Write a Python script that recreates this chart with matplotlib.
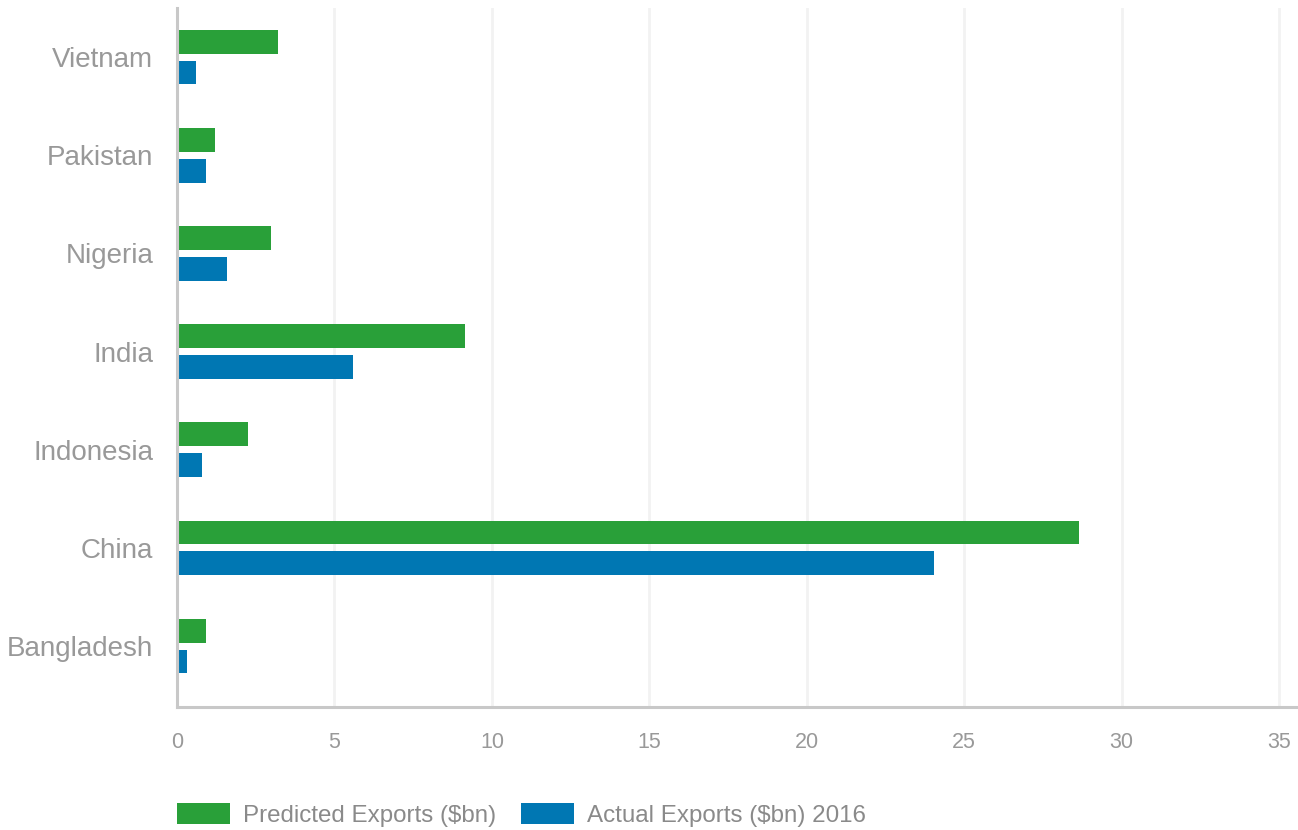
import numpy as np
import matplotlib
matplotlib.use('Agg')
import matplotlib.pyplot as plt

# --- data (top to bottom as shown) ---
countries = ['Vietnam', 'Pakistan', 'Nigeria', 'India', 'Indonesia', 'China', 'Bangladesh']
predicted = [3.2, 1.2, 3.0, 9.15, 2.25, 28.65, 0.93]
actual = [0.6, 0.92, 1.6, 5.6, 0.8, 24.05, 0.33]
series_names = ['Predicted Exports ($bn)', 'Actual Exports ($bn) 2016']
xticks = [0, 5, 10, 15, 20, 25, 30, 35]

GREEN = '#29a039'
BLUE = '#0077b3'
LABEL_GREY = '#999999'
LEGEND_GREY = '#8a8a8a'

plt.rcParams['font.family'] = ['Liberation Sans', 'DejaVu Sans']

W, H = 1298, 830
fig = plt.figure(figsize=(W / 100, H / 100), dpi=100)
ax = fig.add_axes([177 / W, 1 - 707 / H, (W - 177) / W, (707 - 8) / H])

y = np.arange(len(countries))
bar_h = 0.243
off = 0.157
ax.barh(y - off, predicted, height=bar_h, color=GREEN, label=series_names[0], zorder=3)
ax.barh(y + off, actual, height=bar_h, color=BLUE, label=series_names[1], zorder=3)

# top row sits a little lower, as in the original
ax.set_ylim(6.62, -0.5)
ax.set_xlim(0, 35.6)

ax.set_yticks(y)
ax.set_yticklabels(countries, fontsize=20, color=LABEL_GREY)
ax.set_xticks(xticks)
ax.set_xticklabels([str(t) for t in xticks], fontsize=15.5, color=LABEL_GREY)
ax.tick_params(axis='both', length=0)
ax.tick_params(axis='y', pad=17)
ax.tick_params(axis='x', pad=18)

ax.grid(axis='x', color='#f2f2f2', linewidth=2, zorder=0)
ax.grid(axis='y', visible=False)
for side in ['top', 'right']:
    ax.spines[side].set_visible(False)
for side in ['left', 'bottom']:
    ax.spines[side].set_color('#c8c8c8')
    ax.spines[side].set_linewidth(2.2)
    ax.spines[side].set_zorder(4)

fig.legend(loc='center left', bbox_to_anchor=(177 / W, 15 / H), ncol=2,
           frameon=False, borderpad=0, borderaxespad=0,
           handlelength=2.19, handleheight=0.95, handletextpad=0.54,
           columnspacing=1.03,
           prop={'size': 17.4}, labelcolor=LEGEND_GREY)

fig.savefig('out.png', dpi=100)
